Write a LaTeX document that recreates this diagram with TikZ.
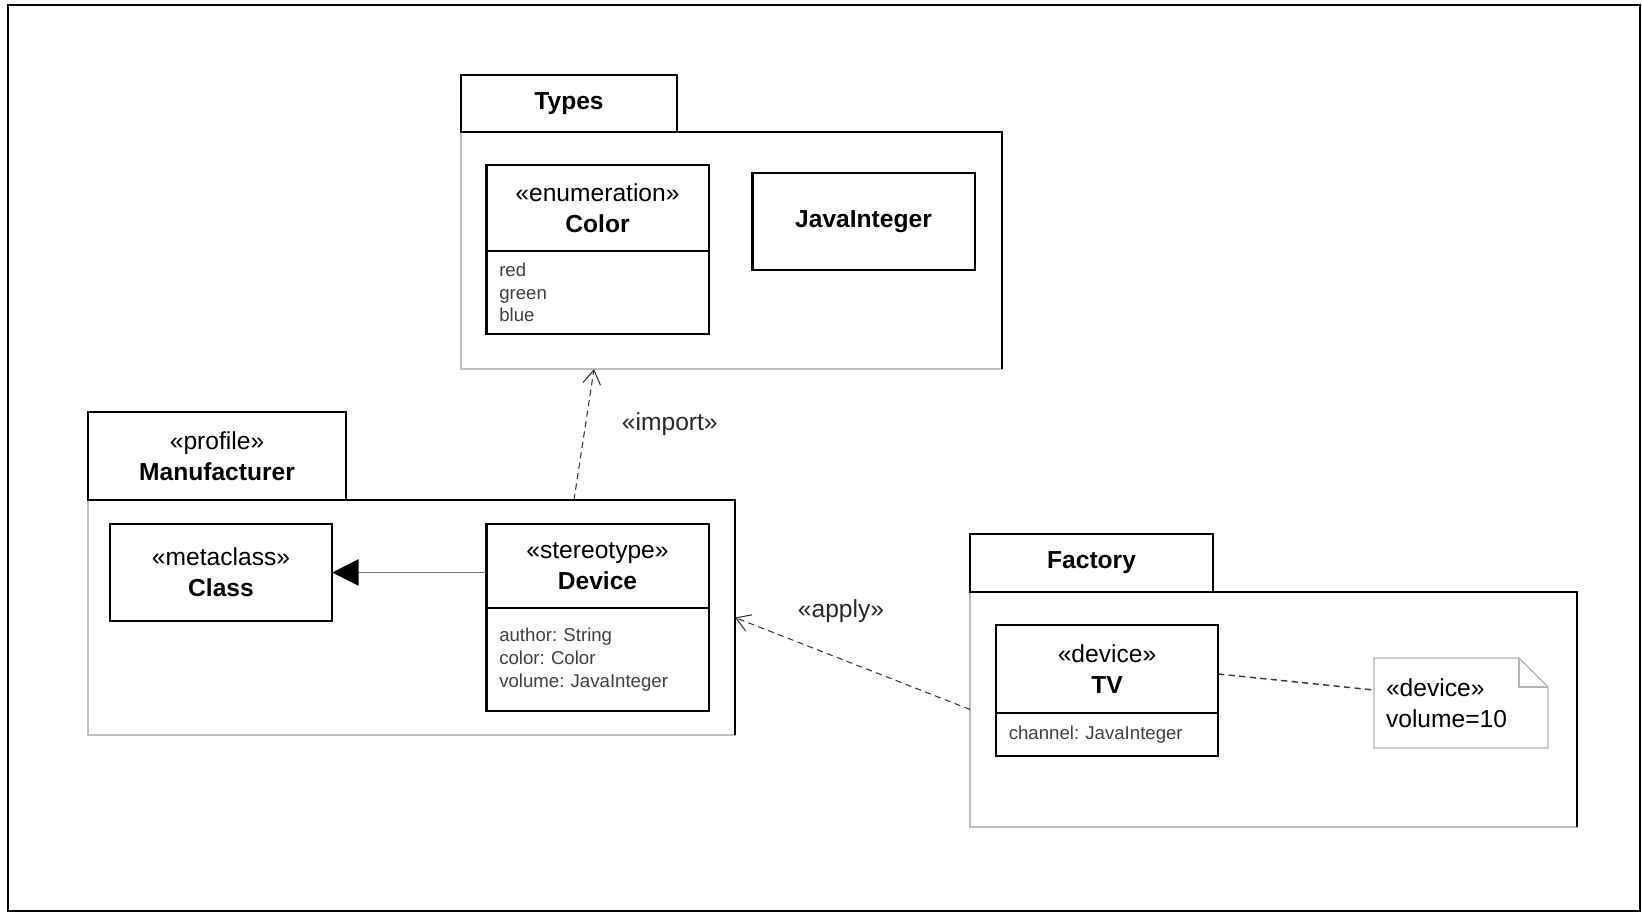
\documentclass[tikz,border=0pt]{standalone}
\usepackage{fontspec}
\setmainfont{Liberation Sans}
\usetikzlibrary{arrows.meta, positioning}
\frenchspacing

\newcommand{\headfont}{\fontsize{14}{17.5}\selectfont}
\newcommand{\attrfont}{\fontsize{10.6}{13}\selectfont}

\tikzset{
  pkgtab/.style={rectangle, draw=black, line width=1.3pt, fill=white, font=\headfont,
                 align=center, inner sep=0pt, outer sep=0pt},
  pkgbody/.style={rectangle, draw=gray!50, line width=0.7pt, inner sep=0pt, outer sep=0pt},
  pkgedge/.style={draw=black, line width=1.3pt},
  headbox/.style={rectangle, draw=black, line width=1.4pt, fill=white, font=\headfont,
                  align=center, inner sep=0pt, outer sep=0pt, minimum width=4.45cm},
  attrbox/.style={rectangle, draw=black, line width=1.4pt, fill=white, font=\attrfont,
                  text=black!75, align=left, inner xsep=0.26cm, inner ysep=0pt, outer sep=0pt,
                  minimum width=4.45cm, text width=3.93cm},
  notebox/.style={rectangle, fill=white, font=\headfont, align=left, inner xsep=0.24cm,
                  inner ysep=0pt, outer sep=0pt, minimum width=3.48cm, minimum height=1.8cm,
                  text width=3.0cm},
  noteline/.style={draw=gray!60, line width=0.7pt},
  deparrow/.style={-{Straight Barb[length=8pt, width=10pt]}, draw=black!80, line width=0.6pt,
                   dash pattern=on 3.5pt off 2.5pt},
  inherit/.style={-{Triangle[length=15pt, width=15pt, color=black]}, draw=black!55, line width=0.9pt},
  assoc/.style={draw=black!80, line width=0.8pt, dash pattern=on 3.5pt off 2.5pt},
  deplabel/.style={font=\headfont, text=black!85},
  frame/.style={draw=black, line width=1.4pt},
}

\begin{document}
\begin{tikzpicture}[x=0.02cm, y=-0.02cm]
  \useasboundingbox (0,0) rectangle (1642,913);
  \draw[frame] (8,5) rectangle (1640,911);

  % Types package
  \node[pkgbody, minimum width=10.82cm, minimum height=4.74cm] (typesbody) at (731.5,250.5) {};
  \draw[pkgedge] (typesbody.north west) -- (typesbody.north east) -- (typesbody.south east);
  \node[pkgtab, minimum width=4.32cm, minimum height=1.14cm, anchor=south west]
    (typestab) at (typesbody.north west) {\textbf{Types}};
  \node[headbox, minimum height=1.72cm] (colorhead) at (597.5,208) {«enumeration»\\\textbf{Color}};
  \node[attrbox, minimum height=1.66cm, below=0pt of colorhead] (colorattr) {red\\green\\blue};
  \node[headbox, minimum height=1.94cm] (javaint) at (863.5,221.5) {\textbf{JavaInteger}};

  % Manufacturer profile
  \node[pkgbody, minimum width=12.94cm, minimum height=4.70cm] (mfrbody) at (411.5,617.5) {};
  \draw[pkgedge] (mfrbody.north west) -- (mfrbody.north east) -- (mfrbody.south east);
  \node[pkgtab, minimum width=5.16cm, minimum height=1.76cm, anchor=south west]
    (mfrtab) at (mfrbody.north west) {«profile»\\\textbf{Manufacturer}};
  \node[headbox, minimum height=1.94cm] (classnode) at (221,572.5) {«metaclass»\\\textbf{Class}};
  \node[headbox, minimum height=1.68cm] (devicehead) at (597.5,566) {«stereotype»\\\textbf{Device}};
  \node[attrbox, minimum height=2.06cm, below=0pt of devicehead] (deviceattr)
    {author: String\\color: Color\\volume: JavaInteger};

  % Factory package
  \node[pkgbody, minimum width=12.14cm, minimum height=4.70cm] (factorybody) at (1273.5,709.5) {};
  \draw[pkgedge] (factorybody.north west) -- (factorybody.north east) -- (factorybody.south east);
  \node[pkgtab, minimum width=4.86cm, minimum height=1.16cm, anchor=south west]
    (factorytab) at (factorybody.north west) {\textbf{Factory}};
  \node[headbox, minimum height=1.76cm] (tvhead) at (1107,669) {«device»\\\textbf{TV}};
  \node[attrbox, minimum height=0.86cm, below=0pt of tvhead] (tvattr) {channel: JavaInteger};

  % Note
  \node[notebox] (note) at (1461,703) {«device»\\volume=10};
  \draw[noteline] (note.north west) -- ([xshift=-0.58cm]note.north east)
    -- ([yshift=-0.58cm]note.north east) -- (note.south east) -- (note.south west) -- cycle;
  \draw[noteline] ([xshift=-0.58cm]note.north east) |- ([yshift=-0.58cm]note.north east);

  % Connectors
  \draw[inherit] (devicehead.west |- classnode.east) -- (classnode.east);
  \draw[deparrow] ([xshift=3.25cm]mfrbody.north) -- ([xshift=-2.75cm]typesbody.south)
    node[pos=0.58, right=0.6cm, deplabel] {«import»};
  \draw[deparrow] (factorybody.west) -- (mfrbody.east)
    node[midway, above=0.7cm, xshift=-0.23cm, deplabel] {«apply»};
  \draw[assoc] ([yshift=-0.1cm]tvhead.east) -- ([yshift=0.26cm]note.west);

\end{tikzpicture}
\end{document}
